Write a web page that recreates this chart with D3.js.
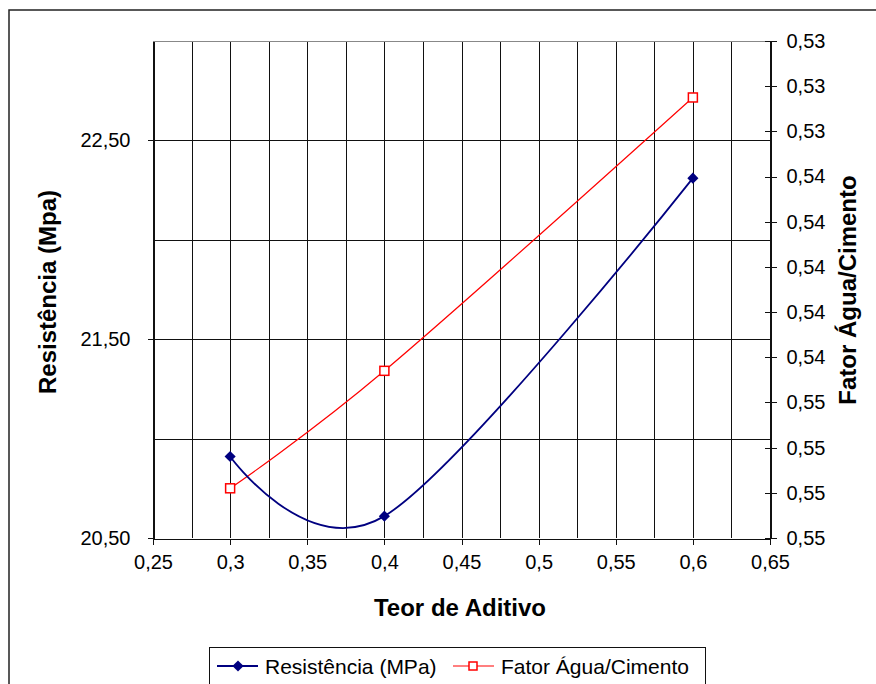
<!DOCTYPE html>
<html>
<head>
<meta charset="utf-8">
<script src="https://cdn.jsdelivr.net/npm/d3@7"></script>
<style>
  body { margin: 0; background: #fff; }
  svg { display: block; font-family: "Liberation Sans", Arial, sans-serif; }
</style>
</head>
<body>
<script>
// teor de aditivo (x) and the two series
var teor = [0.3, 0.4, 0.6];
var resistencia = [20.91, 20.61, 22.31];
var fatorAC = [0.5498, 0.5446, 0.5325];

var xTicks = [0.25, 0.3, 0.35, 0.4, 0.45, 0.5, 0.55, 0.6, 0.65];
var yLeftTicks = [20.5, 21.5, 22.5];
var yRightTicks = d3.range(0, 12).map(function (i) { return +(0.530 + i * 0.002).toFixed(3); });

var width = 876, height = 684;
var plotL = 153, plotR = 770, plotT = 41, plotB = 538;

var pt = d3.formatLocale({ decimal: ",", thousands: ".", grouping: [3], currency: ["R$", ""] });
var fmt2 = pt.format(".2f");
var fmtX = pt.format("~g");

var svg = d3.select("body").append("svg")
    .attr("width", width)
    .attr("height", height);

// outer chart frame
svg.append("rect")
    .attr("x", 9).attr("y", 10)
    .attr("width", width).attr("height", height)
    .attr("fill", "#fff")
    .attr("stroke", "#222")
    .attr("stroke-width", 1.5);

var x = d3.scaleLinear().domain([0.25, 0.65]).range([plotL, plotR]);
var yL = d3.scaleLinear().domain([20.5, 23]).range([plotB, plotT]);
var yR = d3.scaleLinear().domain([0.552, 0.530]).range([plotB, plotT]);

// grid
var grid = svg.append("g").attr("shape-rendering", "crispEdges");
grid.selectAll(".vg")
    .data(d3.range(0, 17).map(function (i) { return 0.25 + i * 0.025; }))
    .enter().append("line")
    .attr("x1", function (d) { return Math.round(x(d)) + 0.5; })
    .attr("x2", function (d) { return Math.round(x(d)) + 0.5; })
    .attr("y1", plotT).attr("y2", plotB)
    .attr("stroke", "#111");
grid.selectAll(".hg")
    .data([21, 21.5, 22, 22.5])
    .enter().append("line")
    .attr("x1", plotL).attr("x2", plotR)
    .attr("y1", function (d) { return Math.round(yL(d)) + 0.5; })
    .attr("y2", function (d) { return Math.round(yL(d)) + 0.5; })
    .attr("stroke", "#111");
grid.append("line")
    .attr("x1", plotL).attr("x2", plotR)
    .attr("y1", plotT + 0.5).attr("y2", plotT + 0.5)
    .attr("stroke", "#888");

// axes
var axL = svg.append("g")
    .attr("transform", "translate(" + (plotL + 0.5) + ",0)")
    .call(d3.axisLeft(yL).tickValues(yLeftTicks).tickFormat(fmt2).tickSize(6).tickSizeOuter(0));
var axR = svg.append("g")
    .attr("transform", "translate(" + (plotR + 0.5) + ",0)")
    .call(d3.axisRight(yR).tickValues(yRightTicks).tickFormat(fmt2).tickSize(6).tickSizeOuter(0));
axR.selectAll(".tick line").attr("x1", -6);
var axX = svg.append("g")
    .attr("transform", "translate(0," + (plotB + 0.5) + ")")
    .call(d3.axisBottom(x).tickValues(xTicks).tickFormat(fmtX).tickSize(6).tickSizeOuter(0));

[axL, axR, axX].forEach(function (a) {
    a.attr("shape-rendering", "crispEdges");
    a.select(".domain").attr("stroke", "#111");
    a.selectAll(".tick line").attr("stroke", "#111");
    a.selectAll("text")
        .attr("font-family", "Liberation Sans, Arial, sans-serif")
        .attr("font-size", 20)
        .attr("fill", "#000");
});
axL.selectAll("text").attr("x", -23);
axR.selectAll("text").attr("x", 16);
axX.selectAll("text").attr("y", 16);

// titles
svg.append("text")
    .attr("x", 460).attr("y", 616)
    .attr("text-anchor", "middle")
    .attr("font-size", 24).attr("font-weight", "bold")
    .text("Teor de Aditivo");
svg.append("text")
    .attr("transform", "translate(56,292) rotate(-90)")
    .attr("text-anchor", "middle")
    .attr("font-size", 24).attr("font-weight", "bold")
    .text("Resistência (Mpa)");
svg.append("text")
    .attr("transform", "translate(856,290) rotate(-90)")
    .attr("text-anchor", "middle")
    .attr("font-size", 24).attr("font-weight", "bold")
    .text("Fator Água/Cimento");

// series
var curve = d3.curveCardinal.tension(0);
var resData = teor.map(function (t, i) { return [t, resistencia[i]]; });
var fatData = teor.map(function (t, i) { return [t, fatorAC[i]]; });

svg.append("path")
    .datum(fatData)
    .attr("fill", "none")
    .attr("stroke", "#ff0000")
    .attr("stroke-width", 1.2)
    .attr("d", d3.line().curve(curve)
        .x(function (d) { return x(d[0]); })
        .y(function (d) { return yR(d[1]); }));
svg.append("path")
    .datum(resData)
    .attr("fill", "none")
    .attr("stroke", "#000080")
    .attr("stroke-width", 1.8)
    .attr("d", d3.line().curve(curve)
        .x(function (d) { return x(d[0]); })
        .y(function (d) { return yL(d[1]); }));

var diamond = d3.symbol().type(d3.symbolSquare).size(62);
svg.selectAll(".dm")
    .data(resData)
    .enter().append("path")
    .attr("d", diamond)
    .attr("transform", function (d) { return "translate(" + x(d[0]) + "," + yL(d[1]) + ") rotate(45)"; })
    .attr("fill", "#000080");
svg.selectAll(".sq")
    .data(fatData)
    .enter().append("rect")
    .attr("x", function (d) { return x(d[0]) - 4.5; })
    .attr("y", function (d) { return yR(d[1]) - 4.5; })
    .attr("width", 9).attr("height", 9)
    .attr("fill", "#fff")
    .attr("stroke", "#ff0000")
    .attr("stroke-width", 1.5);

// legend
var lg = svg.append("g");
lg.append("rect")
    .attr("x", 209.5).attr("y", 647.5)
    .attr("width", 496).attr("height", 50)
    .attr("fill", "#fff")
    .attr("stroke", "#111");
lg.append("line").attr("x1", 217).attr("x2", 258).attr("y1", 666).attr("y2", 666)
    .attr("stroke", "#000080").attr("stroke-width", 1.8);
lg.append("path").attr("d", diamond)
    .attr("transform", "translate(238,666) rotate(45)")
    .attr("fill", "#000080");
lg.append("text").attr("x", 265).attr("y", 673.5)
    .attr("font-size", 21).text("Resistência (MPa)");
lg.append("line").attr("x1", 453).attr("x2", 494).attr("y1", 666).attr("y2", 666)
    .attr("stroke", "#ff0000").attr("stroke-width", 1.2);
lg.append("rect").attr("x", 469).attr("y", 662).attr("width", 8).attr("height", 8)
    .attr("fill", "#fff").attr("stroke", "#ff0000").attr("stroke-width", 1.5);
lg.append("text").attr("x", 501).attr("y", 673.5)
    .attr("font-size", 21).text("Fator Água/Cimento");
</script>
</body>
</html>
